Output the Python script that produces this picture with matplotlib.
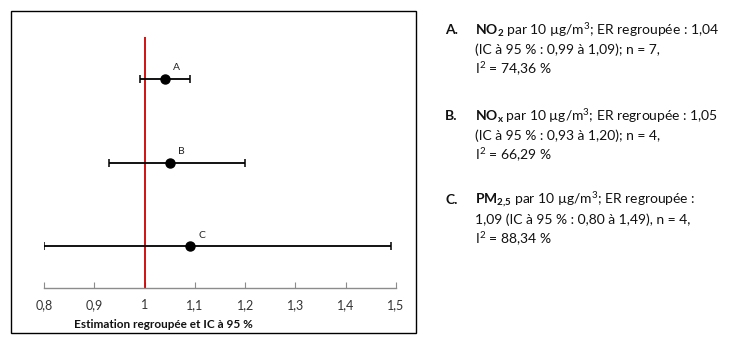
import matplotlib
matplotlib.use("Agg")
import matplotlib.pyplot as plt
from matplotlib.patches import Rectangle

labels = ["A", "B", "C"]
estimates = [1.04, 1.05, 1.09]
ci_low = [0.99, 0.93, 0.80]
ci_high = [1.09, 1.20, 1.49]
xticks = [0.8, 0.9, 1.0, 1.1, 1.2, 1.3, 1.4, 1.5]
xticklabels = ["0,8", "0,9", "1", "1,1", "1,2", "1,3", "1,4", "1,5"]
xlabel = "Estimation regroupée et IC à 95 %"

letters = ["A.", "B.", "C."]
notes = [
    [r"$\mathbf{NO_2}$ par 10 µg/m$^3$; ER regroupée : 1,04",
     "(IC à 95 % : 0,99 à 1,09); n = 7,",
     r"I$^2$ = 74,36 %"],
    [r"$\mathbf{NO_x}$ par 10 µg/m$^3$; ER regroupée : 1,05",
     "(IC à 95 % : 0,93 à 1,20); n = 4,",
     r"I$^2$ = 66,29 %"],
    [r"$\mathbf{PM_{2{,}5}}$ par 10 µg/m$^3$; ER regroupée :",
     "1,09 (IC à 95 % : 0,80 à 1,49), n = 4,",
     r"I$^2$ = 88,34 %"],
]

plt.rcParams['font.family'] = ['Lato', 'DejaVu Sans']
plt.rcParams['mathtext.fontset'] = 'custom'
plt.rcParams['mathtext.rm'] = 'Lato'
plt.rcParams['mathtext.it'] = 'Lato:italic'
plt.rcParams['mathtext.bf'] = 'Lato:bold'

W, H = 734, 346
fig = plt.figure(figsize=(W / 100, H / 100), dpi=100)

def fx(px):
    return px / W

def fy(py):
    return 1 - py / H

ax = fig.add_axes([fx(44), fy(288), fx(396) - fx(44), fy(37) - fy(288)])
ax.set_xlim(0.8, 1.5)
ax.set_ylim(0.5, 3.5)

ypos = [3, 2, 1]
for lab, est, lo, hi, y in zip(labels, estimates, ci_low, ci_high, ypos):
    ax.errorbar([est], [y], xerr=[[est - lo], [hi - est]], fmt='o', color='black',
                ecolor='black', elinewidth=1.3, capsize=3, capthick=1.1,
                markersize=6.5, zorder=3)
    ax.annotate(lab, (est, y), xytext=(8.6, 8), textcoords='offset points',
                ha='center', va='center', fontsize=7.5, color='#222222')

ax.axvline(1.0, color='#cc0000', lw=1.3, zorder=2)

for s in ['top', 'right', 'left']:
    ax.spines[s].set_visible(False)
ax.spines['bottom'].set_color('#8c8c8c')
ax.spines['bottom'].set_linewidth(1.0)
ax.set_yticks([])
ax.set_xticks(xticks)
ax.set_xticklabels(xticklabels, fontsize=9, color='#333333')
ax.tick_params(axis='x', direction='in', length=4, color='#8c8c8c', pad=8)

fig.text(fx(74), fy(325), xlabel, fontsize=8.5, fontweight='bold', ha='left',
         va='center', color='#111111')

fig.add_artist(Rectangle((fx(11), fy(333)), fx(416) - fx(11), fy(11) - fy(333),
                         transform=fig.transFigure, fill=False, ec='black', lw=1))

block_y = [30, 116, 200]
for letter, lines, y0 in zip(letters, notes, block_y):
    fig.text(fx(445), fy(y0), letter, fontsize=10, fontweight='bold',
             ha='left', va='center', color='#111111')
    for i, line in enumerate(lines):
        fig.text(fx(475), fy(y0 + i * 19.5), line, fontsize=10, ha='left',
                 va='center', color='#111111')

fig.savefig("out.png", dpi=100)
